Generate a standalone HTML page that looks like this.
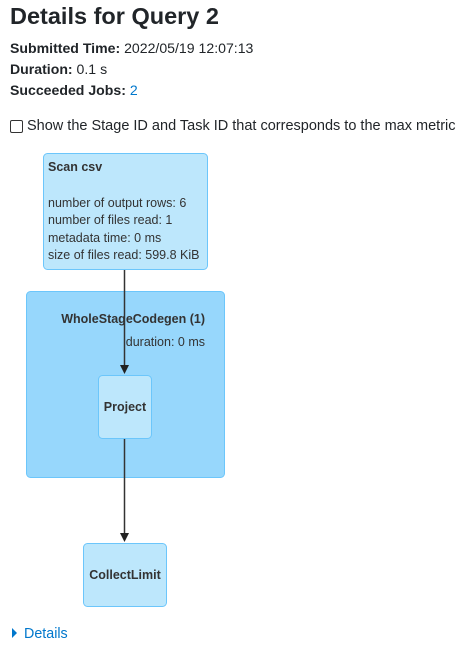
<!DOCTYPE html>
<html><head><style>
body{margin:0;width:475px;height:653px;background:#fff;font-family:"Liberation Sans",sans-serif;color:#212529;position:relative;overflow:hidden}
.a{position:absolute;white-space:nowrap}
b{font-weight:bold}
</style></head><body>
<div class="a" style="left:10px;top:3px;font-size:23.5px;font-weight:bold;">Details for Query 2</div>
<div class="a" style="left:10px;top:40px;font-size:14.1px;"><b>Submitted Time:</b> 2022/05/19 12:07:13</div>
<div class="a" style="left:10px;top:61px;font-size:14.1px;"><b>Duration:</b> 0.1 s</div>
<div class="a" style="left:10px;top:82px;font-size:14.1px;"><b>Succeeded Jobs:</b> <span style="color:#0077cc">2</span></div>
<div class="a" style="left:10px;top:120px;width:11px;height:11px;border:1px solid #333;border-radius:2px;"></div>
<div class="a" style="left:27px;top:118px;font-size:14.5px;">Show the Stage ID and Task ID that corresponds to the max metric</div>
<svg class="a" style="left:0;top:0" width="475" height="653">
<rect x="43.5" y="153.5" width="164" height="116" rx="4" fill="#bde7fc" stroke="#6cc6fb"/>
<rect x="26.5" y="291.5" width="198" height="186" rx="4" fill="#97d7fc" stroke="#6cc6fb"/>
<rect x="98.5" y="375.5" width="53" height="63" rx="4" fill="#bde7fc" stroke="#6cc6fb"/>
<rect x="83.5" y="543.5" width="83" height="63" rx="4" fill="#bde7fc" stroke="#6cc6fb"/>
<line x1="124.5" y1="270" x2="124.5" y2="366" stroke="#333" stroke-width="1.5"/>
<polygon points="120,365 129,365 124.5,374" fill="#222"/>
<line x1="124.5" y1="439" x2="124.5" y2="534" stroke="#333" stroke-width="1.5"/>
<polygon points="120,533 129,533 124.5,542" fill="#222"/>
<g font-family="Liberation Sans,sans-serif" font-size="12.5" fill="#333">
<text x="48" y="171" font-weight="bold">Scan csv</text>
<text x="48" y="207">number of output rows: 6</text>
<text x="48" y="224">number of files read: 1</text>
<text x="48" y="242">metadata time: 0 ms</text>
<text x="48" y="259">size of files read: 599.8 KiB</text>
<text x="205" y="323" font-weight="bold" text-anchor="end">WholeStageCodegen (1)</text>
<text x="205" y="346" text-anchor="end">duration: 0 ms</text>
<text x="125" y="411" font-weight="bold" text-anchor="middle">Project</text>
<text x="125" y="579" font-weight="bold" text-anchor="middle">CollectLimit</text>
</g>
<polygon points="12,628 17,633 12,638" fill="#0077cc"/>
<text x="24" y="638" font-family="Liberation Sans,sans-serif" font-size="14.3" fill="#0077cc">Details</text>
</svg>
</body></html>
